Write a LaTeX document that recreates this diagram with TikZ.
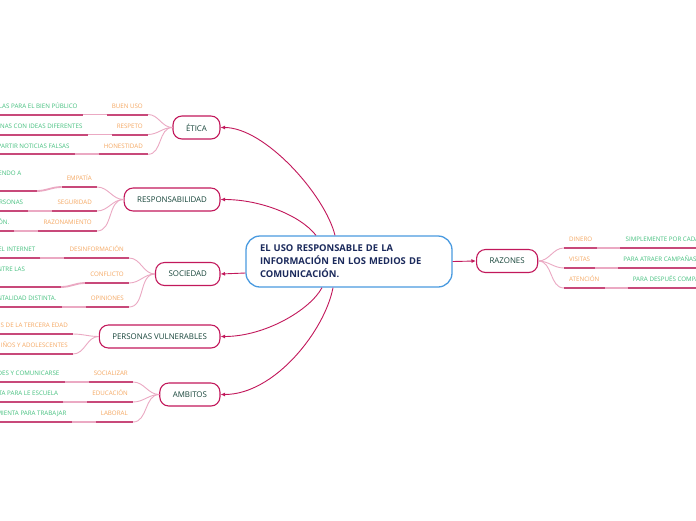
\documentclass[tikz,border=0pt]{standalone}
\usepackage{fontspec}
\setmainfont{Open Sans}
\usetikzlibrary{arrows.meta,positioning}
\definecolor{crimson}{HTML}{C2185B}
\definecolor{ulpink}{HTML}{C8497A}
\definecolor{lightpink}{HTML}{EBA9C3}
\definecolor{peach}{HTML}{F5A862}
\definecolor{leaf}{HTML}{44C07E}
\definecolor{topblue}{HTML}{4A9BE0}
\definecolor{navy}{HTML}{1B2A5C}
\definecolor{pine}{HTML}{17453A}
\begin{document}
\begin{tikzpicture}[x=1pt,y=-1pt,
   central/.style={draw=topblue,line width=1.3pt,rounded corners=14pt,fill=white,
               minimum width=206pt,minimum height=51pt,text width=178pt,align=left,
               inner xsep=14pt,font=\fontsize{9.4}{13}\selectfont\bfseries,text=navy},
   topic/.style={draw=crimson,line width=1.1pt,rounded corners=9pt,fill=white,
               minimum height=23pt,inner xsep=13pt,font=\fontsize{7.9}{9}\selectfont,text=pine},
   sub/.style={inner xsep=5pt,inner ysep=6pt,text depth=0pt,text=peach,
               font=\fontsize{6.2}{7}\selectfont},
   leafnode/.style={sub,text=leaf},
   uline/.style={draw=ulpink,line width=2pt},
   link/.style={draw=lightpink,line width=1.8pt},
   twig/.style={draw=lightpink,line width=0.9pt},
   branch/.style={draw=crimson,line width=0.9pt,-{Latex[length=4.5pt,width=4pt]}}]
  \useasboundingbox (0,0) rectangle (696,520);
  \clip (0,0) rectangle (696,520);
  \fill[white] (0,0) rectangle (696,520);
  \coordinate (edgeL) at (0,0);
  \coordinate (edgeR) at (696,0);

  \node[central] (root) at (349,261.5) {EL USO RESPONSABLE DE LA\\INFORMACIÓN EN LOS MEDIOS DE\\COMUNICACIÓN.};
  \node[topic,anchor=east] (etica) at (220.5,127.5) {ÉTICA};
  \node[topic,anchor=east] (resp) at (220.5,199.5) {RESPONSABILIDAD};
  \node[topic,anchor=east] (soc) at (220.5,274) {SOCIEDAD};
  \node[topic,anchor=east] (vuln) at (220.5,336.5) {PERSONAS VULNERABLES};
  \node[topic,anchor=east] (amb) at (220.5,394.5) {AMBITOS};
  \node[topic,anchor=west] (raz) at (476,261) {RAZONES};

  \draw[branch] ([xshift=-14pt]root.north) .. controls (325,195) and (265,127.5) .. (etica.east);
  \draw[branch] ([xshift=-33pt]root.north) .. controls (300,215) and (260,199.5) .. (resp.east);
  \draw[branch] ([yshift=-11.5pt]root.west) -- (soc.east);
  \draw[branch] ([xshift=-27pt]root.south) .. controls (310,310) and (265,336.5) .. (vuln.east);
  \draw[branch] ([xshift=-16pt]root.south) .. controls (325,330) and (275,394.5) .. (amb.east);
  \draw[branch] (root.east) -- (raz.west);

  \node[sub,anchor=south east] (et1) at (148,114.5) {BUEN USO};
  \node[sub,anchor=south east] (et2) at (148,134.5) {RESPETO};
  \node[sub,anchor=south east] (et3) at (148,154.3) {HONESTIDAD};
  \node[leafnode,anchor=south east] (et1g) at ([xshift=-24pt]et1.south west) {LAS PARA EL BIEN PÚBLICO};
  \node[leafnode,anchor=south east] (et2g) at ([xshift=-24pt]et2.south west) {NAS CON IDEAS DIFERENTES};
  \node[leafnode,anchor=south east] (et3g) at ([xshift=-24pt]et3.south west) {PARTIR NOTICIAS FALSAS};

  \node[sub,anchor=south east] (re1) at (97,187) {EMPATÍA};
  \node[sub,anchor=south east] (re2) at (97,211) {SEGURIDAD};
  \node[sub,anchor=south east] (re3) at (97,231) {RAZONAMIENTO};
  \node[leafnode,anchor=south east,text depth=9.5pt] (re1g) at ([xshift=-25pt,yshift=-4pt]re1.south west) {ENDO A\hspace*{10pt}};
  \node[leafnode,anchor=south east] (re2g) at ([xshift=-24pt]re2.south west) {RSONAS};
  \node[leafnode,anchor=south east] (re3g) at ([xshift=-24pt]re3.south west) {ÓN.};

  \node[sub,anchor=south east] (so1) at (129,258) {DESINFORMACIÓN};
  \node[sub,anchor=south east] (so2) at (129,283) {CONFLICTO};
  \node[sub,anchor=south east] (so3) at (129,307) {OPINIONES};
  \node[leafnode,anchor=south east] (so1g) at ([xshift=-24pt]so1.south west) {EL INTERNET};
  \node[leafnode,anchor=south east,text depth=9.5pt] (so2g) at ([xshift=-24pt,yshift=-4pt]so2.south west) {NTRE LAS\hspace*{31pt}};
  \node[leafnode,anchor=south east] (so3g) at ([xshift=-24pt]so3.south west) {NTALIDAD DISTINTA.};

  \node[sub,anchor=south east] (vu1) at (73,334) {S DE LA TERCERA EDAD};
  \node[sub,anchor=south east] (vu2) at (73,354) {IÑOS Y ADOLESCENTES};

  \node[sub,anchor=south east] (am1) at (133,382) {SOCIALIZAR};
  \node[sub,anchor=south east] (am2) at (133,402) {EDUCACIÓN};
  \node[sub,anchor=south east] (am3) at (133,422) {LABORAL};
  \node[leafnode,anchor=south east] (am1g) at ([xshift=-24pt]am1.south west) {DES Y COMUNICARSE};
  \node[leafnode,anchor=south east] (am2g) at ([xshift=-24pt]am2.south west) {TA PARA LE ESCUELA};
  \node[leafnode,anchor=south east] (am3g) at ([xshift=-24pt]am3.south west) {MIENTA PARA TRABAJAR};

  \node[sub,anchor=south west] (ra1) at (564,248) {DINERO};
  \node[sub,anchor=south west] (ra2) at (564,268) {VISITAS};
  \node[sub,anchor=south west] (ra3) at (564,288) {ATENCIÓN};
  \node[leafnode,anchor=south west] (ra1g) at ([xshift=23pt]ra1.south east) {SIMPLEMENTE POR CADA};
  \node[leafnode,anchor=south west] (ra2g) at ([xshift=23pt]ra2.south east) {PARA ATRAER CAMPAÑAS.};
  \node[leafnode,anchor=south west] (ra3g) at ([xshift=23pt]ra3.south east) {PARA DESPUÉS COMPA};

  \foreach \o/\t in {et1/etica,et2/etica,et3/etica,re1/resp,re2/resp,re3/resp,
                     so1/soc,so2/soc,so3/soc,vu1/vuln,vu2/vuln,am1/amb,am2/amb,am3/amb}
    \draw[twig] (\o.south east) to[out=0,in=180] (\t.west);
  \foreach \o in {et1,et2,et3,re1,re2,re3,so1,so2,so3,am1,am2,am3} {
    \draw[link] (\o g.south east) to[out=0,in=180] (\o.south west);
    \draw[uline] (\o g.south east) -- (\o g.south east -| edgeL);
    \draw[uline] (\o.south west) -- (\o.south east);
  }
  \foreach \o in {vu1,vu2}
    \draw[uline] (\o.south east) -- (\o.south east -| edgeL);
  \foreach \o in {ra1,ra2,ra3} {
    \draw[twig] (raz.east) to[out=0,in=180] (\o.south west);
    \draw[link] (\o.south east) -- (\o g.south west);
    \draw[uline] (\o g.south west) -- (\o g.south west -| edgeR);
    \draw[uline] (\o.south west) -- (\o.south east);
  }
\end{tikzpicture}
\end{document}
